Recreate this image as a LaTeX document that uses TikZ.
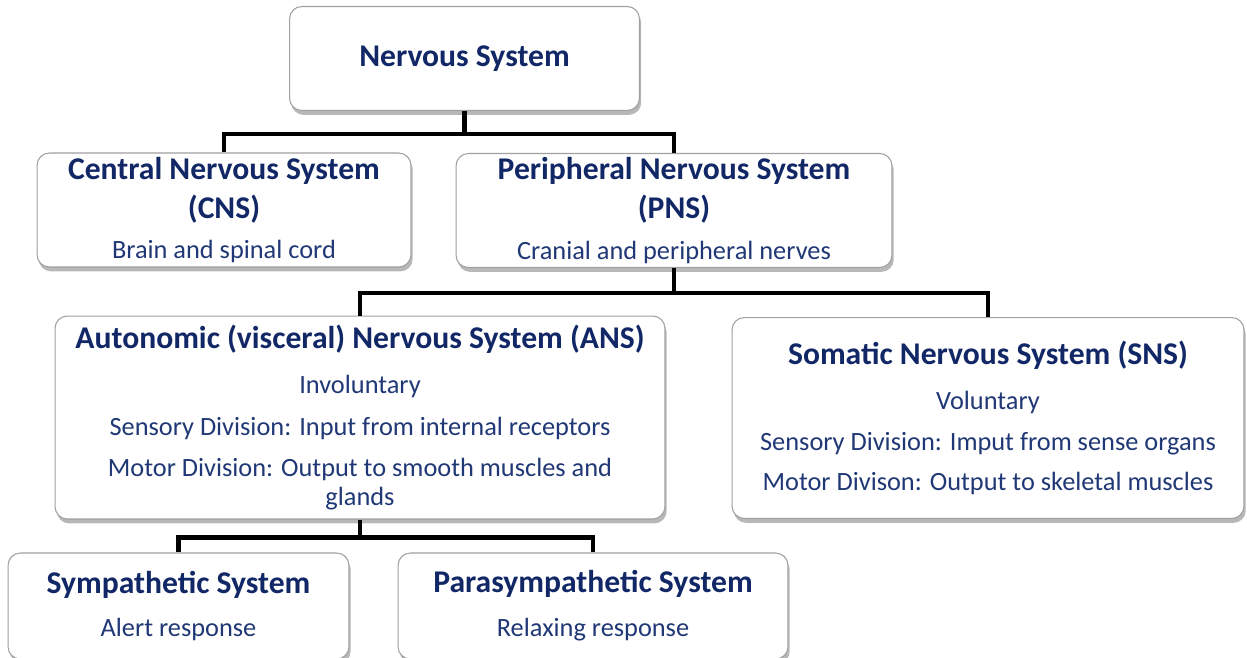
\documentclass[tikz,border=0pt]{standalone}
\usepackage{fontspec}
\setmainfont{Carlito}
\usepackage{tikz}
\usetikzlibrary{shadows}

\definecolor{navyhead}{HTML}{112766}
\definecolor{navytext}{HTML}{203875}
\definecolor{boxline}{HTML}{A0A0A0}

\newcommand{\hd}[1]{{\bfseries\color{navyhead}\fontsize{18}{18}\selectfont #1}}

\begin{document}
\begin{tikzpicture}[x=0.02cm,y=-0.02cm]
\tikzstyle{sysbox}=[draw=boxline,line width=0.6pt,fill=white,rounded corners=7pt,
                    align=center,inner sep=0pt,text=navytext,
                    font=\fontsize{15}{18}\selectfont,
                    drop shadow={shadow xshift=1pt,shadow yshift=-2.5pt,fill=black,opacity=0.28}]
\tikzstyle{link}=[line width=2.5pt,black]
\useasboundingbox (0,0) rectangle (1247,657);

\node [sysbox,minimum width=7.0cm,minimum height=2.08cm] (ns) at (464.5,58.5)
      {\hd{Nervous System}};
\node [sysbox,minimum width=7.48cm,minimum height=2.28cm] (cns) at (224,210)
      {\hd{Central Nervous System}\\[4pt] \hd{(CNS)}\\[5pt] Brain and spinal cord};
\node [sysbox,minimum width=8.72cm,minimum height=2.28cm] (pns) at (674,210.5)
      {\hd{Peripheral Nervous System}\\[4pt] \hd{(PNS)}\\[5pt] Cranial and peripheral nerves};
\node [sysbox,minimum width=12.2cm,minimum height=4.06cm] (ans) at (360,417.5)
      {\hd{Autonomic (visceral) Nervous System (ANS)}\\[7.5pt] Involuntary\\[6pt]
       Sensory Division: Input from internal receptors\\[5pt]
       Motor Division: Output to smooth muscles and\\[-1.5pt] glands};
\node [sysbox,minimum width=10.24cm,minimum height=4.02cm] (sns) at (988,418)
      {\hd{Somatic Nervous System (SNS)}\\[7.5pt] Voluntary\\[5pt]
       Sensory Division: Imput from sense organs\\[5pt]
       Motor Divison: Output to skeletal muscles};
\node [sysbox,minimum width=6.82cm,minimum height=2.12cm] (sym) at (178.5,606)
      {\hd{Sympathetic System}\\[7pt] Alert response};
\node [sysbox,minimum width=7.8cm,minimum height=2.12cm] (para) at (593,606)
      {\hd{Parasympathetic System}\\[7pt] Relaxing response};

% tree links
\draw [link] (ns.south) -- ++(0,23) coordinate (j1);
\draw [link] (cns.north) |- (j1) -| (pns.north);
\draw [link] (pns.south) -- ++(0,25) coordinate (j2);
\draw [link] (ans.north) |- (j2) -| (sns.north);
\draw [link] (ans.south) -- ++(0,18) coordinate (j3);
\draw [link] (sym.north) |- (j3) -| (para.north);

\end{tikzpicture}
\end{document}
